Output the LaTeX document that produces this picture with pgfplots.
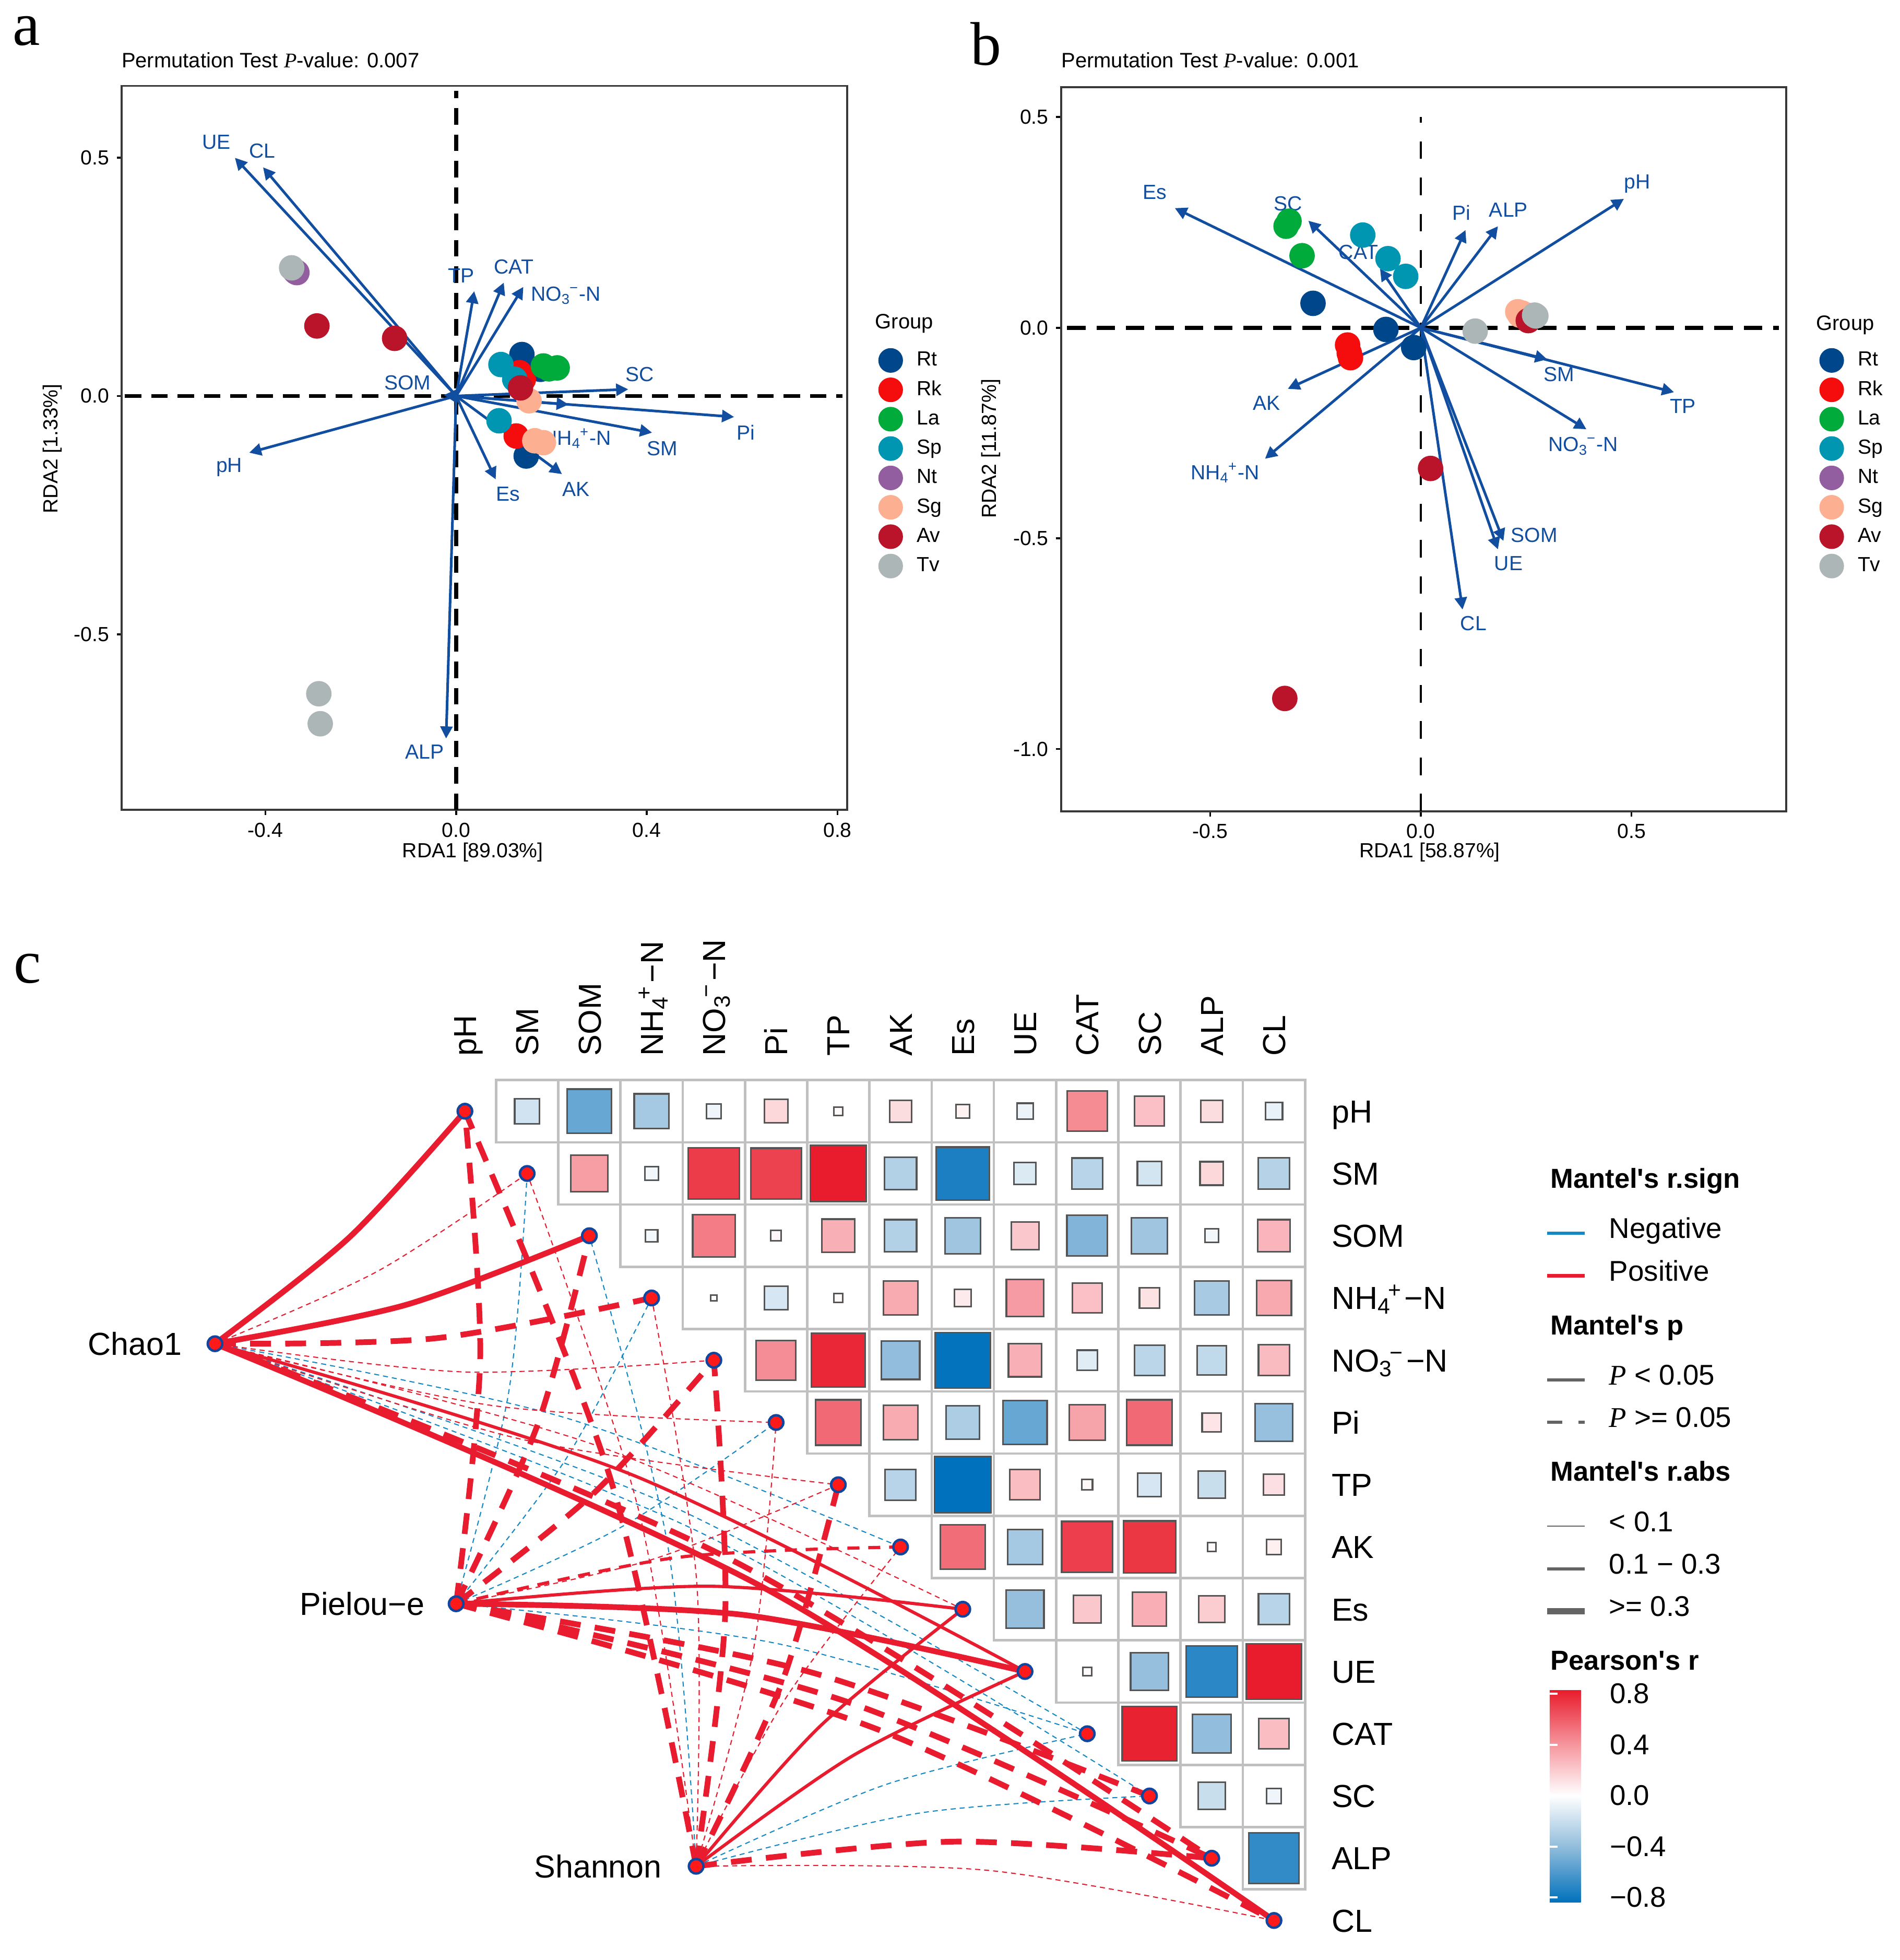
\documentclass[border=0pt]{standalone}
\usepackage{pgfplots}
\pgfplotsset{compat=1.18}
\usepackage{pgfplotstable}
\usetikzlibrary{arrows.meta}
\usepackage{fontspec}
\setmainfont{Liberation Sans}
\newfontfamily\serifrm{Liberation Serif}

\definecolor{cRt}{RGB}{0,70,139}
\definecolor{cRk}{RGB}{245,12,12}
\definecolor{cLa}{RGB}{0,170,59}
\definecolor{cSp}{RGB}{0,150,178}
\definecolor{cNt}{RGB}{146,94,159}
\definecolor{cSg}{RGB}{253,175,145}
\definecolor{cAv}{RGB}{185,20,42}
\definecolor{cTv}{RGB}{173,182,182}
\definecolor{arrowblue}{RGB}{18,78,160}
\definecolor{linkred}{RGB}{232,28,46}
\definecolor{linkblue}{RGB}{22,136,196}
\definecolor{nodered}{RGB}{255,25,25}
\definecolor{nodeblue}{RGB}{16,70,160}
\definecolor{gridgray}{RGB}{192,192,192}
\definecolor{sqborder}{RGB}{85,85,85}
\definecolor{keygray}{RGB}{100,100,100}

\pgfplotsset{
  colormap={rdbu}{rgb255(0cm)=(0,113,188); rgb255(4.4cm)=(146,189,220); rgb255(8.4cm)=(255,255,255); rgb255(12.4cm)=(246,150,158); rgb255(16.7cm)=(232,28,44)},
  grp/.style={only marks, mark=*, mark size=5.6pt, color=#1, mark options={draw=none, fill=#1}},
  arr/.style={color=arrowblue, line width=1.2pt, -{Triangle[length=5.5pt,width=5.5pt]}, forget plot},
  rda/.style={
    scale only axis, clip=false,
    tick pos=left, tick align=outside, major tick length=0.08cm,
    tick style={black, line width=0.9pt},
    axis line style={draw=black!78, line width=0.9pt},
    /pgf/number format/assume math mode=true,
    tick label style={font=\fontsize{9.3}{11}\selectfont, /pgf/number format/fixed, /pgf/number format/fixed zerofill, /pgf/number format/precision=1},
    legend cell align=left,
    legend image code/.code={\fill[##1] (0.2cm,0cm) circle (0.19cm);},
    legend style={draw=none, fill=none, anchor=north west, inner sep=0pt, row sep=0pt,
      font=\fontsize{9.3}{11}\selectfont, nodes={inner sep=0pt, minimum height=0.47cm},
      /tikz/every odd column/.append style={column sep=0.22cm}},
  },
}
\tikzset{
  lpos/.style={color=linkred}, lneg/.style={color=linkblue},
  w1s/.style={line width=0.5pt}, w2s/.style={line width=1.45pt}, w3s/.style={line width=2.6pt},
  w1d/.style={line width=0.5pt, dash pattern=on 2.3pt off 1.8pt},
  w2d/.style={line width=1.45pt, dash pattern=on 5.5pt off 4pt},
  w3d/.style={line width=2.6pt, dash pattern=on 9.5pt off 6.5pt},
  albl/.style={text=arrowblue, font=\fontsize{9.3}{11}\selectfont, inner sep=0pt},
  clab/.style={font=\fontsize{14.5}{17}\selectfont, inner sep=0pt, text height=10.4pt, text depth=0pt},
  rlab/.style={font=\fontsize{9.3}{11}\selectfont, inner sep=0pt},
  lgE/.style={text height=12pt, text depth=7.35pt},
  lgT/.style={text height=17.1pt, text depth=10.9pt},
}
\newcommand\lkc{0.04}
\newcommand\mlink[4]{%
  \pgfmathsetmacro\lkdx{#3-(#1)}%
  \pgfmathsetmacro\lkdy{-#3-(#2)}%
  \pgfmathsetmacro\lks{(#3<7) ? 1 : -1}%
  \pgfmathsetmacro\lkmx{((#1)+#3)/2+\lks*\lkc*\lkdy}%
  \pgfmathsetmacro\lkmy{((#2)-#3)/2-\lks*\lkc*\lkdx}%
  \edef\lkdo{\noexpand\addplot[smooth,no markers,forget plot,#4] coordinates {(#1,#2) (\lkmx,\lkmy) (#3,-#3)};}%
  \lkdo
}
\newcommand\nhf{NH\textsubscript{4}\kern-0.1em\textsuperscript{+}\kern0.08em−N}
\newcommand\nof{NO\textsubscript{3}\kern-0.1em\textsuperscript{−}\kern0.08em−N}
\newcommand\nhab{NH\textsubscript{4}\kern-0.05em\textsuperscript{+}-N}
\newcommand\noab{NO\textsubscript{3}\kern-0.05em\textsuperscript{−}-N}
\newcommand\ttl[1]{\hspace*{-0.94cm}{\fontsize{12.5}{15}\selectfont\bfseries #1}}

\begin{document}
\pgfplotstableread{
x y r
1 0 -0.17
2 0 -0.53
3 0 -0.33
4 0 -0.06
5 0 0.15
6 0 0.02
7 0 0.13
8 0 0.05
9 0 -0.07
10 0 0.44
11 0 0.24
12 0 0.13
13 0 -0.08
2 -1 0.37
3 -1 -0.05
4 -1 0.72
5 -1 0.70
6 -1 0.86
7 -1 -0.28
8 -1 -0.76
9 -1 -0.13
10 -1 -0.26
11 -1 -0.16
12 -1 0.15
13 -1 -0.27
3 -2 -0.04
4 -2 0.49
5 -2 0.03
6 -2 0.30
7 -2 -0.28
8 -2 -0.35
9 -2 0.21
10 -2 -0.45
11 -2 -0.35
12 -2 -0.05
13 -2 0.28
4 -3 0.01
5 -3 -0.15
6 -3 0.02
7 -3 0.32
8 -3 0.08
9 -3 0.38
10 -3 0.24
11 -3 0.11
12 -3 -0.32
13 -3 0.33
5 -4 0.43
6 -4 0.79
7 -4 -0.40
8 -4 -0.83
9 -4 0.30
10 -4 -0.11
11 -4 -0.25
12 -4 -0.23
13 -4 0.26
6 -5 0.56
7 -5 0.32
8 -5 -0.30
9 -5 -0.53
10 -5 0.35
11 -5 0.56
12 -5 0.10
13 -5 -0.38
7 -6 -0.26
8 -6 -0.87
9 -6 0.25
10 -6 0.03
11 -6 -0.15
12 -6 -0.20
13 -6 0.12
8 -7 0.54
9 -7 -0.33
10 -7 0.71
11 -7 0.74
12 -7 0.02
13 -7 0.06
9 -8 -0.39
10 -8 0.21
11 -8 0.31
12 -8 0.19
13 -8 -0.26
10 -9 0.02
11 -9 -0.39
12 -9 -0.71
13 -9 0.83
11 -10 0.81
12 -10 -0.40
13 -10 0.25
12 -11 -0.20
13 -11 -0.06
13 -12 -0.69
}\heatdata
\begin{tikzpicture}
\useasboundingbox (0,0) rectangle (30.4cm,31.36cm);
% panel letters and titles
\node[font=\serifrm\fontsize{28}{30}\selectfont] at (0.42cm,30.86cm) {a};
\node[font=\serifrm\fontsize{28}{30}\selectfont] at (15.78cm,30.66cm) {b};
\node[font=\serifrm\fontsize{28}{30}\selectfont] at (0.44cm,15.86cm) {c};
\node[anchor=west, inner sep=0pt, font=\fontsize{9.5}{11}\selectfont] at (1.94cm,30.4cm) {Permutation Test {\serifrm\itshape P}-value: 0.007};
\node[anchor=west, inner sep=0pt, font=\fontsize{9.5}{11}\selectfont] at (16.98cm,30.4cm) {Permutation Test {\serifrm\itshape P}-value: 0.001};
\node[rlab] at (7.566cm,17.72cm) {RDA1 [89.03\%]};
\node[rlab, rotate=90] at (0.84cm,24.18cm) {RDA2 [1.33\%]};
\node[rlab] at (22.88cm,17.72cm) {RDA1 [58.87\%]};
\node[rlab, rotate=90] at (15.86cm,24.18cm) {RDA2 [11.87\%]};
\node[anchor=west, rlab, font=\fontsize{9.5}{11}\selectfont] at (14.0cm,26.18cm) {Group};
\node[anchor=west, rlab, font=\fontsize{9.5}{11}\selectfont] at (29.06cm,26.16cm) {Group};

% ---------------- panel a ----------------
\begin{axis}[rda, at={(7.754cm,24.193cm)}, anchor=center,
  width=11.612cm, height=11.586cm,
  xmin=-0.7014, xmax=0.8205, ymin=-0.869, ymax=0.651,
  xtick={-0.4,0,0.4,0.8}, ytick={-0.5,0,0.5},
  legend style={at={(axis description cs:1.0422,0.6417)}}]
\addplot[black, line width=1.8pt, dash pattern=on 7.5pt off 4.5pt, forget plot] coordinates {(0,-0.869) (0,0.64)};
\addplot[black, line width=1.8pt, dash pattern=on 7.5pt off 4.5pt, forget plot] coordinates {(-0.695,0) (0.81,0)};
\addplot[grp=cRt] coordinates {(0.138,0.087) (0.177,0.056) (0.147,-0.126)}; \addlegendentry{Rt}
\addplot[grp=cRk] coordinates {(0.133,0.049) (0.126,-0.084) (0.141,0.035)}; \addlegendentry{Rk}
\addplot[grp=cLa] coordinates {(0.183,0.063) (0.195,0.057) (0.212,0.059)}; \addlegendentry{La}
\addplot[grp=cSp] coordinates {(0.094,0.066) (0.123,0.035) (0.090,-0.052)}; \addlegendentry{Sp}
\addplot[grp=cNt] coordinates {(-0.334,0.259) (-0.338,0.262) (-0.336,0.26)}; \addlegendentry{Nt}
\addplot[grp=cSg] coordinates {(0.153,-0.010) (0.165,-0.094) (0.183,-0.098)}; \addlegendentry{Sg}
\addplot[grp=cAv] coordinates {(-0.292,0.147) (-0.129,0.121) (0.135,0.017)}; \addlegendentry{Av}
\addplot[grp=cTv] coordinates {(-0.345,0.269) (-0.288,-0.625) (-0.285,-0.688)}; \addlegendentry{Tv}
\addplot[arr] coordinates {(0,0) (-0.464,0.500)};
\addplot[arr] coordinates {(0,0) (-0.405,0.480)};
\addplot[arr] coordinates {(0,0) (0.038,0.220)};
\addplot[arr] coordinates {(0,0) (0.100,0.238)};
\addplot[arr] coordinates {(0,0) (0.141,0.229)};
\addplot[arr] coordinates {(0,0) (-0.026,0.002)};
\addplot[arr] coordinates {(0,0) (0.361,0.014)};
\addplot[arr] coordinates {(0,0) (0.583,-0.044)};
\addplot[arr] coordinates {(0,0) (0.411,-0.077)};
\addplot[arr] coordinates {(0,0) (0.236,-0.018)};
\addplot[arr] coordinates {(0,0) (0.222,-0.164)};
\addplot[arr] coordinates {(0,0) (0.083,-0.175)};
\addplot[arr] coordinates {(0,0) (-0.434,-0.119)};
\addplot[arr] coordinates {(0,0) (-0.021,-0.719)};
\node[albl] at (axis cs:-0.503,0.533) {UE};
\node[albl] at (axis cs:-0.407,0.514) {CL};
\node[albl] at (axis cs:0.011,0.253) {TP};
\node[albl] at (axis cs:0.121,0.271) {CAT};
\node[albl] at (axis cs:0.230,0.211) {\noab};
\node[albl] at (axis cs:-0.102,0.028) {SOM};
\node[albl] at (axis cs:0.385,0.045) {SC};
\node[albl] at (axis cs:0.608,-0.077) {Pi};
\node[albl] at (axis cs:0.432,-0.110) {SM};
\node[albl] at (axis cs:0.253,-0.089) {\nhab};
\node[albl] at (axis cs:0.252,-0.196) {AK};
\node[albl] at (axis cs:0.109,-0.206) {Es};
\node[albl] at (axis cs:-0.476,-0.150) {pH};
\node[albl] at (axis cs:-0.066,-0.747) {ALP};
\end{axis}

% ---------------- panel b ----------------
\begin{axis}[rda, at={(22.783cm,24.171cm)}, anchor=center,
  width=11.602cm, height=11.586cm,
  xmin=-0.854, xmax=0.867, ymin=-1.148, ymax=0.571,
  xtick={-0.5,0,0.5}, ytick={-1,-0.5,0,0.5},
  legend style={at={(axis description cs:1.0453,0.6436)}}]
\addplot[black, line width=1.0pt, dash pattern=on 8pt off 8.5pt, forget plot] coordinates {(0,-1.148) (0,0.5)};
\addplot[black, line width=1.8pt, dash pattern=on 8.4pt off 5pt, forget plot] coordinates {(-0.84,0) (0.85,0)};
\addplot[grp=cRt] coordinates {(-0.256,0.058) (-0.083,-0.004) (-0.017,-0.047)}; \addlegendentry{Rt}
\addplot[grp=cRk] coordinates {(-0.174,-0.041) (-0.167,-0.071) (-0.170,-0.060)}; \addlegendentry{Rk}
\addplot[grp=cLa] coordinates {(-0.313,0.253) (-0.320,0.241) (-0.282,0.171)}; \addlegendentry{La}
\addplot[grp=cSp] coordinates {(-0.138,0.220) (-0.078,0.164) (-0.036,0.122)}; \addlegendentry{Sp}
\addplot[grp=cNt] coordinates {(0.255,0.020) (0.260,0.025) (0.250,0.030)}; \addlegendentry{Nt}
\addplot[grp=cSg] coordinates {(0.230,0.038) (0.235,0.030) (0.240,0.035)}; \addlegendentry{Sg}
\addplot[grp=cAv] coordinates {(0.255,0.017) (0.023,-0.334) (-0.323,-0.880)}; \addlegendentry{Av}
\addplot[grp=cTv] coordinates {(0.129,-0.008) (0.273,0.028) (0.270,0.030)}; \addlegendentry{Tv}
\addplot[arr] coordinates {(0,0) (-0.584,0.284)};
\addplot[arr] coordinates {(0,0) (-0.267,0.254)};
\addplot[arr] coordinates {(0,0) (-0.097,0.140)};
\addplot[arr] coordinates {(0,0) (0.106,0.232)};
\addplot[arr] coordinates {(0,0) (0.183,0.241)};
\addplot[arr] coordinates {(0,0) (0.482,0.306)};
\addplot[arr] coordinates {(0,0) (0.300,-0.075)};
\addplot[arr] coordinates {(0,0) (0.601,-0.153)};
\addplot[arr] coordinates {(0,0) (0.393,-0.241)};
\addplot[arr] coordinates {(0,0) (-0.316,-0.145)};
\addplot[arr] coordinates {(0,0) (-0.370,-0.311)};
\addplot[arr] coordinates {(0,0) (0.196,-0.506)};
\addplot[arr] coordinates {(0,0) (0.183,-0.526)};
\addplot[arr] coordinates {(0,0) (0.099,-0.669)};
\node[albl] at (axis cs:-0.632,0.322) {Es};
\node[albl] at (axis cs:-0.315,0.295) {SC};
\node[albl] at (axis cs:-0.148,0.179) {CAT};
\node[albl] at (axis cs:0.096,0.273) {Pi};
\node[albl] at (axis cs:0.208,0.280) {ALP};
\node[albl] at (axis cs:0.514,0.342) {pH};
\node[albl] at (axis cs:0.328,-0.111) {SM};
\node[albl] at (axis cs:0.622,-0.186) {TP};
\node[albl] at (axis cs:0.385,-0.281) {\noab};
\node[albl] at (axis cs:-0.366,-0.179) {AK};
\node[albl] at (axis cs:-0.465,-0.344) {\nhab};
\node[albl] at (axis cs:0.269,-0.492) {SOM};
\node[albl] at (axis cs:0.208,-0.559) {UE};
\node[albl] at (axis cs:0.125,-0.702) {CL};
\end{axis}

% ---------------- panel c ----------------
\begin{axis}[at={(15.209cm,8.152cm)}, anchor=center,
  scale only axis, width=30.278cm, height=16.235cm,
  xmin=-7.4, xmax=23, ymin=-13.6, ymax=2.7,
  hide axis, clip=false,
  colormap name=rdbu, point meta min=-0.84, point meta max=0.83,
  legend cell align=left,
  legend style={draw=none, fill=none, at={(axis description cs:0.8135,0.7961)}, anchor=north west,
    inner sep=0pt, row sep=0pt, font=\fontsize{13}{15}\selectfont, nodes={inner sep=0pt},
    /tikz/every odd column/.append style={column sep=0.34cm}}]
\addlegendimage{empty legend}\addlegendentry[lgT]{\ttl{Mantel\textquotesingle s r.sign}}
\addlegendimage{linkblue, line width=1.5pt}\addlegendentry[lgE]{Negative}
\addlegendimage{linkred, line width=1.5pt}\addlegendentry[lgE]{Positive}
\addlegendimage{empty legend}\addlegendentry[lgT]{\ttl{Mantel\textquotesingle s p}}
\addlegendimage{keygray, line width=1.5pt}\addlegendentry[lgE]{{\serifrm\itshape P} < 0.05}
\addlegendimage{keygray, line width=1.5pt, dash pattern=on 6.8pt off 7.4pt}\addlegendentry[lgE]{{\serifrm\itshape P} >= 0.05}
\addlegendimage{empty legend}\addlegendentry[lgT]{\ttl{Mantel\textquotesingle s r.abs}}
\addlegendimage{keygray, line width=0.45pt}\addlegendentry[lgE]{< 0.1}
\addlegendimage{keygray, line width=1.5pt}\addlegendentry[lgE]{0.1 − 0.3}
\addlegendimage{keygray, line width=3pt}\addlegendentry[lgE]{>= 0.3}
\addlegendimage{empty legend}\addlegendentry[lgT]{\ttl{Pearson\textquotesingle s r}}
% grid cells
\addplot[only marks, mark=square, mark size=14.17pt, mark options={draw=gridgray, line width=1.1pt}, forget plot] table[x=x,y=y] {\heatdata};
% correlation squares
\addplot[scatter, only marks, mark=square*, forget plot,
  point meta=\thisrow{r},
  scatter/use mapped color={draw=sqborder, fill=mapped color},
  visualization depends on={sqrt(abs(\thisrow{r}))*13.8 \as \msz},
  scatter/@pre marker code/.append style={/tikz/mark size=\msz pt},
  mark options={line width=0.75pt}] table[x=x,y=y] {\heatdata};
% Mantel links: thin negative
\mlink{-4.016}{-3.735}{7}{lneg,w1d}
\mlink{-4.016}{-3.735}{10}{lneg,w1d}
\mlink{-4.016}{-3.735}{11}{lneg,w1d}
\mlink{-0.141}{-7.912}{1}{lneg,w1d}
\mlink{-0.141}{-7.912}{3}{lneg,w1d}
\mlink{-0.141}{-7.912}{5}{lneg,w1d}
\mlink{-0.141}{-7.912}{10}{lneg,w1d}
\mlink{3.715}{-12.129}{2}{lneg,w1d}
\mlink{3.715}{-12.129}{10}{lneg,w1d}
\mlink{3.715}{-12.129}{11}{lneg,w1d}
% thin positive
\mlink{-4.016}{-3.735}{1}{lpos,w1d}
\mlink{-4.016}{-3.735}{4}{lpos,w1d}
\mlink{-4.016}{-3.735}{5}{lpos,w1d}
\mlink{-4.016}{-3.735}{6}{lpos,w1d}
\mlink{-4.016}{-3.735}{8}{lpos,w1d}
\mlink{-0.141}{-7.912}{6}{lpos,w1d}
\mlink{3.715}{-12.129}{1}{lpos,w1d}
\mlink{3.715}{-12.129}{3}{lpos,w1d}
\mlink{3.715}{-12.129}{5}{lpos,w1d}
\mlink{3.715}{-12.129}{7}{lpos,w1d}
\mlink{3.715}{-12.129}{13}{lpos,w1d}
% medium
\mlink{-0.141}{-7.912}{7}{lpos,w2d}
\mlink{-4.016}{-3.735}{9}{lpos,w2s}
\mlink{-0.141}{-7.912}{8}{lpos,w2s}
\mlink{3.715}{-12.129}{8}{lpos,w2s}
\mlink{3.715}{-12.129}{9}{lpos,w2s}
% thick dashed
\mlink{-4.016}{-3.735}{3}{lpos,w3d}
\mlink{-4.016}{-3.735}{12}{lpos,w3d}
\mlink{-0.141}{-7.912}{0}{lpos,w3d}
\mlink{-0.141}{-7.912}{2}{lpos,w3d}
\mlink{-0.141}{-7.912}{4}{lpos,w3d}
\mlink{-0.141}{-7.912}{11}{lpos,w3d}
\mlink{-0.141}{-7.912}{12}{lpos,w3d}
\mlink{-0.141}{-7.912}{13}{lpos,w3d}
\mlink{3.715}{-12.129}{0}{lpos,w3d}
\mlink{3.715}{-12.129}{4}{lpos,w3d}
\mlink{3.715}{-12.129}{6}{lpos,w3d}
\mlink{3.715}{-12.129}{12}{lpos,w3d}
% thick solid
\mlink{-4.016}{-3.735}{0}{lpos,w3s}
\mlink{-4.016}{-3.735}{2}{lpos,w3s}
\mlink{-4.016}{-3.735}{13}{lpos,w3s}
\mlink{-0.141}{-7.912}{9}{lpos,w3s}
% nodes
\addplot[only marks, mark=*, mark size=3.3pt, mark options={fill=nodered, draw=nodeblue, line width=1.1pt}, forget plot]
  coordinates {(0,0) (1,-1) (2,-2) (3,-3) (4,-4) (5,-5) (6,-6) (7,-7) (8,-8) (9,-9) (10,-10) (11,-11) (12,-12) (13,-13)
  (-4.016,-3.735) (-0.141,-7.912) (3.715,-12.129)};
% env labels
\node[clab, anchor=east] at (axis cs:-4.54,-3.735) {Chao1};
\node[clab, anchor=east] at (axis cs:-0.64,-7.912) {Pielou−e};
\node[clab, anchor=east] at (axis cs:3.17,-12.129) {Shannon};
% column labels
\node[clab, rotate=90, anchor=west] at (axis cs:0,0.884) {pH};
\node[clab, rotate=90, anchor=west] at (axis cs:1,0.884) {SM};
\node[clab, rotate=90, anchor=west] at (axis cs:2,0.884) {SOM};
\node[clab, rotate=90, anchor=west] at (axis cs:3,0.884) {\nhf};
\node[clab, rotate=90, anchor=west] at (axis cs:4,0.884) {\nof};
\node[clab, rotate=90, anchor=west] at (axis cs:5,0.884) {Pi};
\node[clab, rotate=90, anchor=west] at (axis cs:6,0.884) {TP};
\node[clab, rotate=90, anchor=west] at (axis cs:7,0.884) {AK};
\node[clab, rotate=90, anchor=west] at (axis cs:8,0.884) {Es};
\node[clab, rotate=90, anchor=west] at (axis cs:9,0.884) {UE};
\node[clab, rotate=90, anchor=west] at (axis cs:10,0.884) {CAT};
\node[clab, rotate=90, anchor=west] at (axis cs:11,0.884) {SC};
\node[clab, rotate=90, anchor=west] at (axis cs:12,0.884) {ALP};
\node[clab, rotate=90, anchor=west] at (axis cs:13,0.884) {CL};
% row labels
\node[clab, anchor=west] at (axis cs:13.92,0) {pH};
\node[clab, anchor=west] at (axis cs:13.92,-1) {SM};
\node[clab, anchor=west] at (axis cs:13.92,-2) {SOM};
\node[clab, anchor=west] at (axis cs:13.92,-3) {\nhf};
\node[clab, anchor=west] at (axis cs:13.92,-4) {\nof};
\node[clab, anchor=west] at (axis cs:13.92,-5) {Pi};
\node[clab, anchor=west] at (axis cs:13.92,-6) {TP};
\node[clab, anchor=west] at (axis cs:13.92,-7) {AK};
\node[clab, anchor=west] at (axis cs:13.92,-8) {Es};
\node[clab, anchor=west] at (axis cs:13.92,-9) {UE};
\node[clab, anchor=west] at (axis cs:13.92,-10) {CAT};
\node[clab, anchor=west] at (axis cs:13.92,-11) {SC};
\node[clab, anchor=west] at (axis cs:13.92,-12) {ALP};
\node[clab, anchor=west] at (axis cs:13.92,-13) {CL};
\end{axis}

% ---------------- colorbar ----------------
\begin{axis}[at={(24.8cm,4.32cm)}, anchor=north west, scale only axis, width=0.66cm, height=3.4cm,
  hide axis, xmin=0, xmax=1, ymin=0, ymax=1,
  colormap name=rdbu, point meta min=-0.84, point meta max=0.83,
  colorbar shift/.style={},
  colorbar,
  colorbar style={at={(parent axis.north west)}, anchor=north west, width=0.66cm, height=3.4cm,
    ytick={-0.8,-0.4,0,0.4,0.8}, yticklabels={−0.8,−0.4,0.0,0.4,0.8},
    yticklabel style={font=\fontsize{13}{15}\selectfont, xshift=0.18cm},
    axis line style={draw=none}, major tick length=0.13cm,
    tick style={draw=white, line width=0.9pt}, tick align=inside,
    ytick pos=both, yticklabel pos=right}]
\addplot[draw=none, forget plot] coordinates {(0.5,0.5)};
\end{axis}
\end{tikzpicture}
\end{document}
